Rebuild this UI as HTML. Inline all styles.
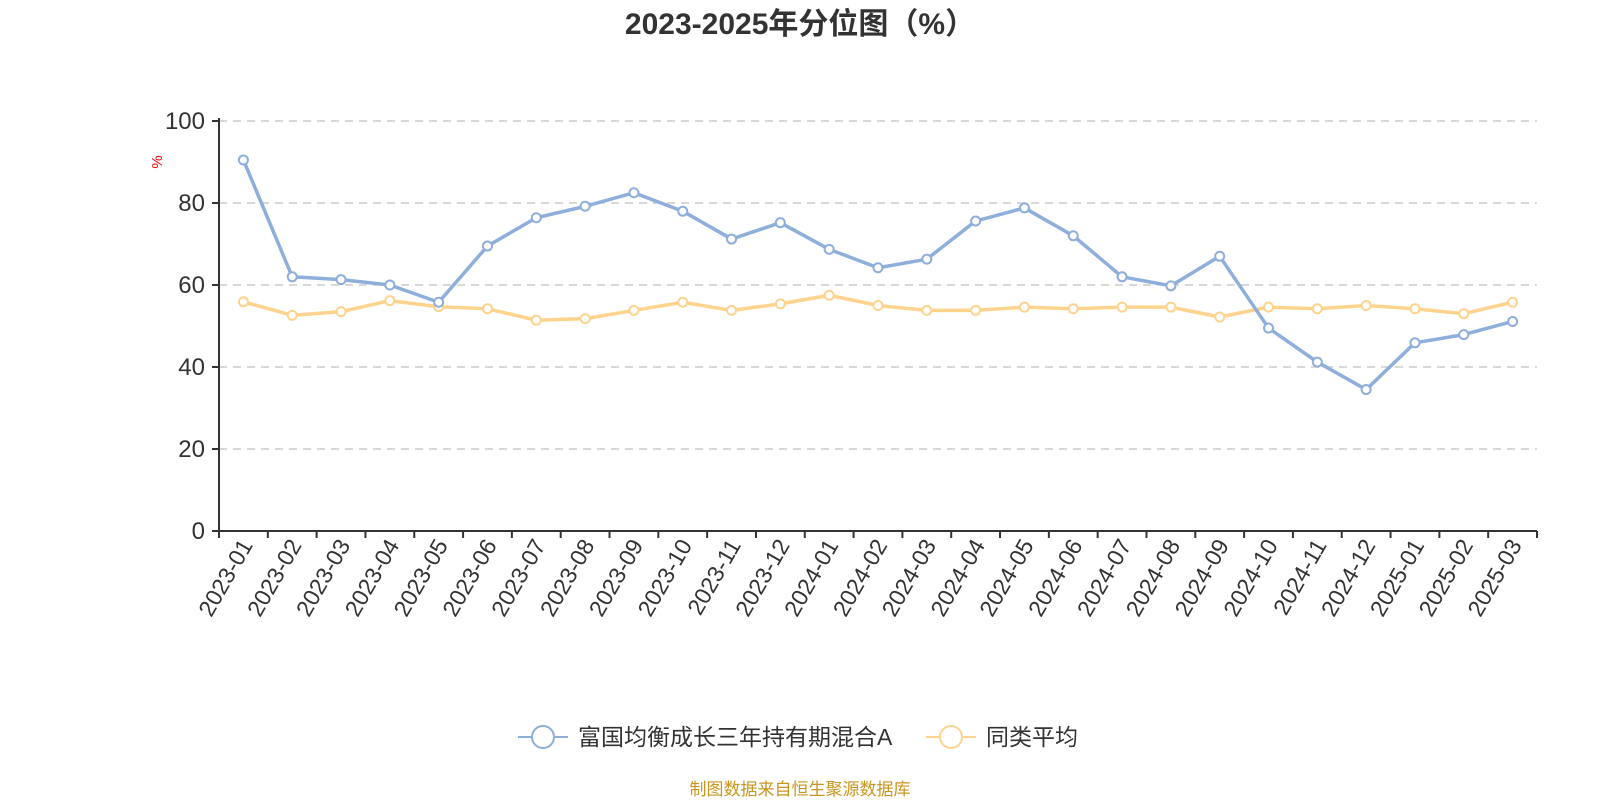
<!DOCTYPE html>
<html><head><meta charset="utf-8"><style>
body{margin:0;background:#fff;font-family:"Liberation Sans","Noto Sans CJK SC",sans-serif}
</style></head><body>
<svg width="1600" height="800" xmlns="http://www.w3.org/2000/svg" style="font-family:'Liberation Sans','Noto Sans CJK SC',sans-serif">
<text x="800" y="34" text-anchor="middle" font-size="30" font-weight="bold" fill="#333">2023-2025年分位图（%）</text>
<text x="0" y="0" transform="translate(162,162) rotate(-90)" text-anchor="middle" font-size="15" fill="#f00">%</text>
<g id="grid"></g><g id="axes"></g><g id="series"></g>
<g>
<g><line x1="518" y1="737" x2="568" y2="737" stroke="#8eaedc" stroke-width="2"/><circle cx="543" cy="737" r="11" fill="#fff" stroke="#8eaedc" stroke-width="2"/><text x="578" y="745" font-size="23" fill="#333">富国均衡成长三年持有期混合A</text></g>
<g><line x1="926" y1="737" x2="976" y2="737" stroke="#fdd38e" stroke-width="2"/><circle cx="951" cy="737" r="11" fill="#fff" stroke="#fdd38e" stroke-width="2"/><text x="986" y="745" font-size="23" fill="#333">同类平均</text></g>
</g>
<text x="800" y="795" text-anchor="middle" font-size="17" fill="#c8961e">制图数据来自恒生聚源数据库</text>
</svg>
<script>
const categories=["2023-01","2023-02","2023-03","2023-04","2023-05","2023-06","2023-07","2023-08","2023-09","2023-10","2023-11","2023-12","2024-01","2024-02","2024-03","2024-04","2024-05","2024-06","2024-07","2024-08","2024-09","2024-10","2024-11","2024-12","2025-01","2025-02","2025-03"];
const fundValues=[90.5,62,61.3,60,55.8,69.5,76.4,79.2,82.5,78,71.2,75.2,68.7,64.2,66.3,75.6,78.8,72,62,59.8,67,49.5,41.2,34.5,45.9,47.9,51.1];
const avgValues=[55.9,52.6,53.5,56.2,54.7,54.2,51.4,51.8,53.8,55.8,53.8,55.4,57.5,55,53.8,53.8,54.6,54.2,54.6,54.6,52.2,54.6,54.2,55,54.2,53,55.8];
const yTicks=[0,20,40,60,80,100];
const NS="http://www.w3.org/2000/svg";
const L=219,R=1537,T=121,B=531;
const bw=(R-L)/categories.length;
const xs=i=>L+bw*(i+0.5);
const ys=v=>B-(v/100)*(B-T);
function mk(t,a,p){const e=document.createElementNS(NS,t);for(const k in a)e.setAttribute(k,a[k]);p.appendChild(e);return e;}
const grid=document.getElementById('grid'),axes=document.getElementById('axes'),ser=document.getElementById('series');
yTicks.forEach(v=>{
 if(v>0){const g=mk('line',{x1:L,x2:R,y1:ys(v),y2:ys(v),stroke:'#ccc','stroke-dasharray':'8,6','stroke-width':1.5},grid);
 
 }
 const tk=mk('line',{x1:L-7,x2:L,y1:ys(v),y2:ys(v),stroke:'#333','stroke-width':2},axes);
 
 
 const t=mk('text',{x:L-14,y:ys(v)+8,'text-anchor':'end','font-size':24,fill:'#333'},axes);t.textContent=v;
 
 
});
const ya=mk('line',{x1:L,x2:L,y1:T-3,y2:B,stroke:'#333','stroke-width':2},axes);


const xa=mk('line',{x1:L,x2:R,y1:B,y2:B,stroke:'#333','stroke-width':2},axes);


for(let i=0;i<=categories.length;i++){const tk=mk('line',{x1:L+bw*i,x2:L+bw*i,y1:B,y2:B+7,stroke:'#333','stroke-width':2},axes);
 
 }
categories.forEach((c,i)=>{const x=xs(i)+10,y=B+14;
 const t=mk('text',{x:x,y:y,'text-anchor':'end','font-size':23,fill:'#333',transform:`rotate(-60 ${x} ${y})`},axes);t.textContent=c;
 
 });
function draw(vals,color,name){
 const g=mk('g',{},ser);
 
 
 const p=mk('polyline',{points:vals.map((v,i)=>xs(i)+','+ys(v)).join(' '),fill:'none',stroke:color,'stroke-width':3.5,'stroke-linejoin':'round'},g);
 
 
 vals.forEach((v,i)=>{const c=mk('circle',{cx:xs(i),cy:ys(v),r:4.5,fill:'#fff',stroke:color,'stroke-width':2},g);
  
  });
}
draw(avgValues,'#fdd38e','average-series');
draw(fundValues,'#8eaedc','fund-series');
</script>
</body></html>
